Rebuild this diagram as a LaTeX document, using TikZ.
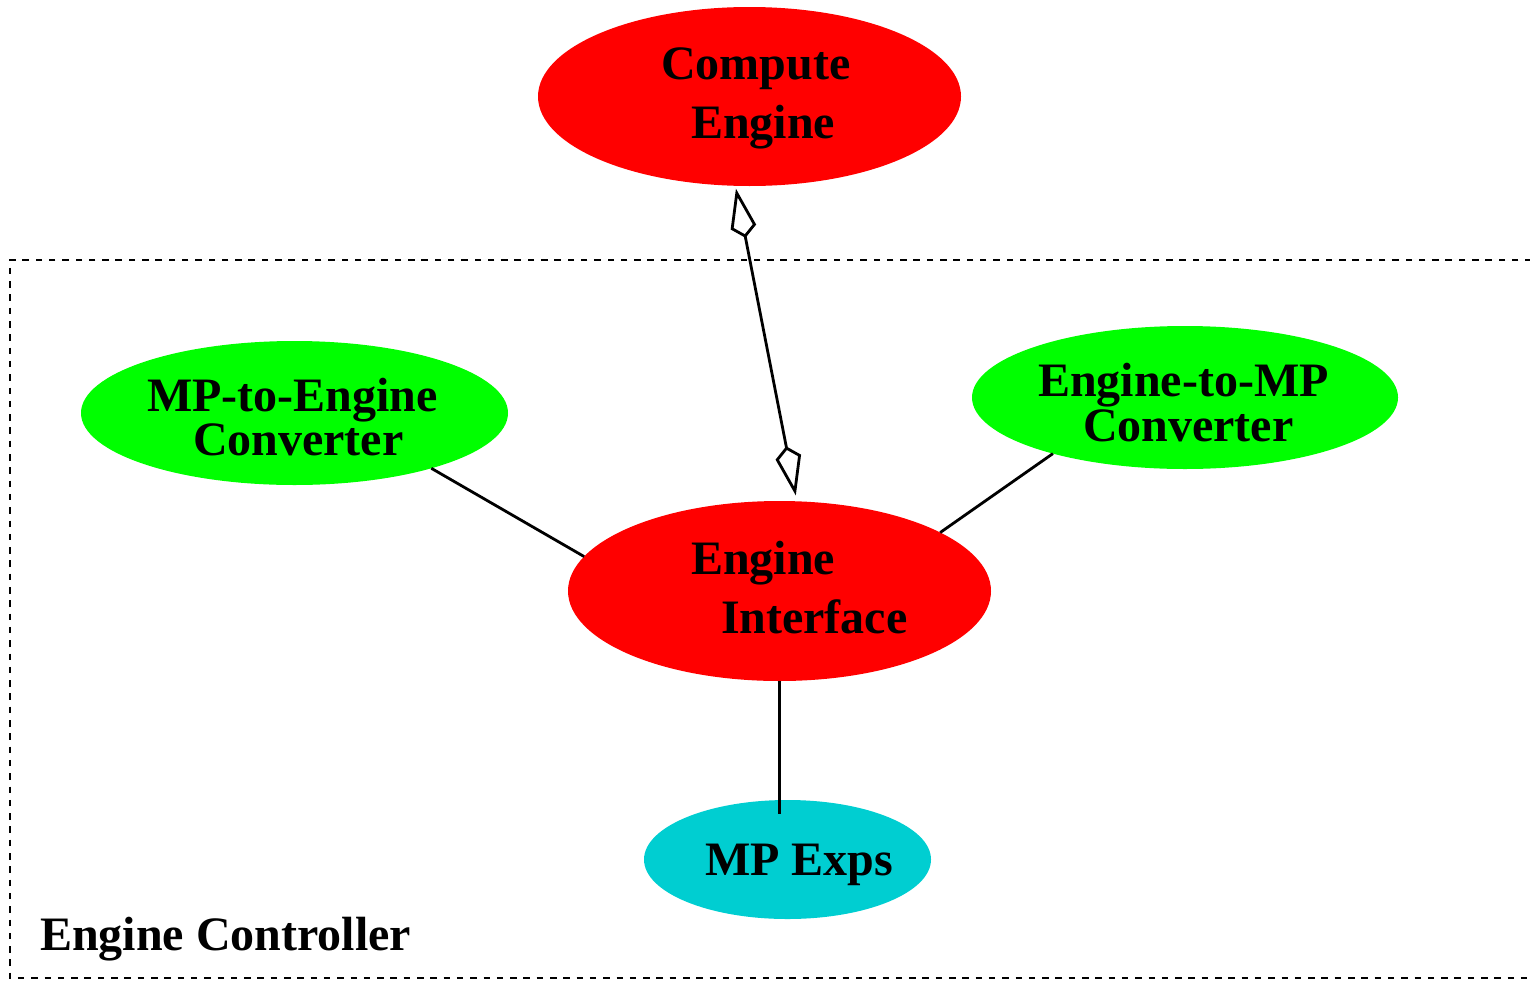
\documentclass[tikz,border=0pt]{standalone}
\usepackage{fontspec}
\setmainfont{Liberation Serif}
\usetikzlibrary{shapes.geometric,arrows.meta,calc}
\definecolor{partred}{RGB}{255,0,0}
\definecolor{partgreen}{RGB}{0,255,0}
\definecolor{partcyan}{RGB}{0,206,209}
\tikzset{
  part/.style={ellipse, draw=none, inner sep=0pt, outer sep=0pt},
  caption/.style={anchor=base west, inner sep=0pt, outer sep=0pt,
    font=\fontsize{48}{56}\selectfont\bfseries},
  link/.style={line width=2.8pt},
  aggtip/.style={Kite[open, length=50pt, width=26pt, inset=11pt]},
  agg/.style={link, {Kite[open, length=50pt, width=26pt, inset=11pt]}-{Kite[open, length=50pt, width=26pt, inset=11pt]}},
  frame/.style={line width=2.6pt, dash pattern=on 6.5pt off 6.8pt},
}
\begin{document}
\begin{tikzpicture}[x=1pt, y=-1pt]
  \useasboundingbox (0,0) rectangle (1530,980);

  % package frame, open on the right
  \draw[frame] (1545,260) -- (10,260) -- (10,978) -- (1545,978);
  \node[caption] (ctrl) at (40,950) {Engine Controller};

  % components
  \node[part, fill=partred, minimum width=423pt, minimum height=179pt] (ce) at (749.5,96.5) {};
  \node[part, fill=partgreen, minimum width=427pt, minimum height=144pt] (mte) at (294.5,413) {};
  \node[part, fill=partgreen, minimum width=426pt, minimum height=143pt] (etm) at (1185,397.5) {};
  \node[part, fill=partred, minimum width=423pt, minimum height=180pt] (ei) at (779.5,591) {};
  \node[part, fill=partcyan, minimum width=287pt, minimum height=119pt] (mpx) at (787.5,859.5) {};

  % component names
  \node[caption] (ce1) at (661,79) {Compute};
  \node[caption] (ce2) at (691,138) {Engine};
  \node[caption] (mte1) at (147,411) {MP-to-Engine};
  \node[caption] (mte2) at (193,455) {Converter};
  \node[caption] (etm1) at (1038,396) {Engine-to-MP};
  \node[caption] (etm2) at (1083,441) {Converter};
  \node[caption] (ei1) at (691,574) {Engine};
  \node[caption] (ei2) at (721,633) {Interface};
  \node[caption] (mpx1) at (705,875) {MP Exps};

  % connections
  \draw[agg, shorten <=3pt, shorten >=6pt] (ce.261.15) -- (ei.79.73);
  \draw[link] (mte.-22.4) -- (ei.170.75);
  \draw[link] (etm.203.6) -- (ei.20.3);
  \draw[link] (ei.south) -- ([yshift=-14pt]ei.south |- mpx.north);
\end{tikzpicture}
\end{document}
